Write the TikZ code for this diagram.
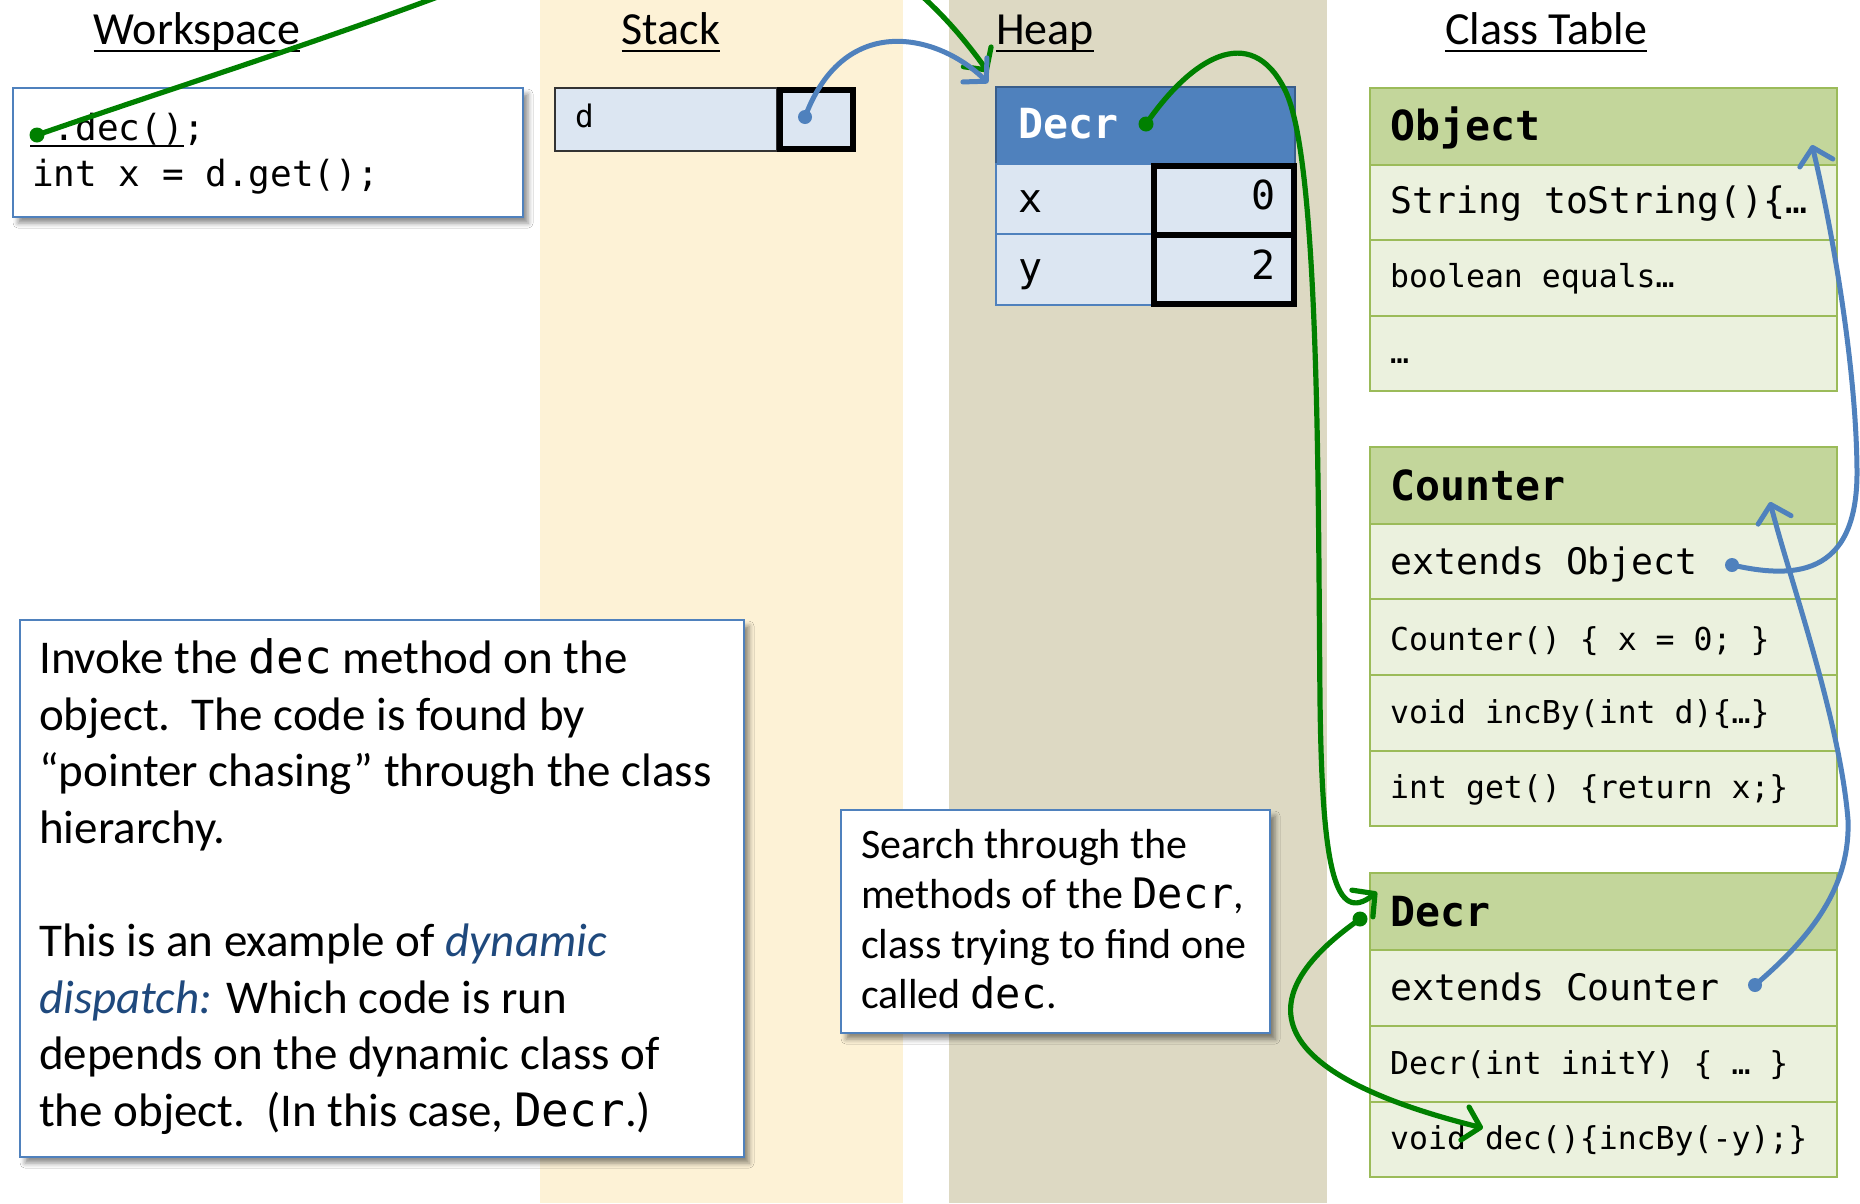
\documentclass[tikz,border=0pt]{standalone}
\usepackage{fontspec}
\setmainfont{Carlito}
\newfontfamily\mono{DejaVu Sans Mono}
\usetikzlibrary{arrows.meta,shadows.blur}

\definecolor{stackband}{HTML}{FDF2D6}
\definecolor{heapband}{HTML}{DDD9C3}
\definecolor{cellblue}{HTML}{DCE6F2}
\definecolor{hdrblue}{HTML}{4F81BD}
\definecolor{hdrblueline}{HTML}{385D8A}
\definecolor{ptrblue}{HTML}{4F81BD}
\definecolor{clshdr}{HTML}{C3D69B}
\definecolor{clsrow}{HTML}{EBF1DE}
\definecolor{clsline}{HTML}{9BBB59}
\definecolor{chase}{HTML}{008000}
\definecolor{termblue}{HTML}{1F497D}

\tikzset{
  title/.style={anchor=base,inner sep=0pt,font=\fontsize{46}{56}\selectfont},
  uline/.style={line width=2.4pt},
  notebox/.style={draw=hdrblue,line width=2.2pt,fill=white,
    blur shadow={shadow xshift=5pt,shadow yshift=-6pt,shadow blur radius=5pt,shadow opacity=45}},
  txt/.style={anchor=base west,inner sep=0pt},
  bigtxt/.style={txt,font=\fontsize{47}{57}\selectfont},
  smalltxt/.style={txt,font=\fontsize{42}{50}\selectfont},
  code/.style={anchor=base west,inner sep=0pt,font=\mono\fontsize{#1}{#1}\selectfont},
  codebf/.style={anchor=base west,inner sep=0pt,font=\mono\bfseries\fontsize{#1}{#1}\selectfont},
  clshead/.style={fill=clshdr,draw=clsline,line width=2.6pt},
  clsbody/.style={fill=clsrow,draw=clsline,line width=2.6pt},
  thickcell/.style={draw=black,line width=6pt},
  greenlink/.style={draw=chase,line width=5.2pt,line cap=round,
    -{Straight Barb[length=16pt,width=34pt,round]}},
  bluelink/.style={draw=ptrblue,line width=5pt,line cap=round,
    -{Straight Barb[length=16pt,width=34pt,round]}},
}

\begin{document}
\begin{tikzpicture}[x=1pt,y=-1pt]
\path[use as bounding box,clip] (0,0) rectangle (1860,1203);
\fill[white] (0,0) rectangle (1860,1203);

% memory areas
\fill[stackband] (540,0) rectangle (903,1203);
\fill[heapband] (949,0) rectangle (1327,1203);

% column titles
\node[title] (tws) at (197,44) {Workspace};
\node[title] (tst) at (671,44) {Stack};
\node[title] (thp) at (1045,44) {Heap};
\node[title] (tct) at (1546,44) {Class Table};
\foreach \t in {tws,tst,thp,tct}
  \draw[uline] ([yshift=-7pt]\t.base west) -- ([yshift=-7pt]\t.base east);

% workspace
\node[notebox,anchor=north west,minimum width=510pt,minimum height=129pt,inner sep=0pt] (ws) at (12,87) {};
\node[code=36] (ws1) at (32,140) {\ .dec();};
\node[code=36] (ws2) at (32,186) {int x = d.get();};
\draw[line width=2pt] (30,146) -- (184,146);

% stack frame
\draw[fill=cellblue,draw=black!80,line width=2pt] (555,88) rectangle (777,151);
\draw[thickcell,fill=cellblue] (780,90) rectangle (853,149);
\node[code=31] (dvar) at (575,127) {d};

% heap object
\draw[fill=hdrblue,draw=hdrblueline,line width=2pt] (996,87) rectangle (1295,164);
\draw[fill=cellblue,draw=hdrblue,line width=2.4pt] (996,164) rectangle (1153,234);
\draw[fill=cellblue,draw=hdrblue,line width=2.4pt] (996,234) rectangle (1153,305);
\draw[thickcell,fill=cellblue] (1154,166) rectangle (1294,235);
\draw[thickcell,fill=cellblue] (1154,235) rectangle (1294,304);
\node[codebf=41.5,text=white] (hdecr) at (1018,138) {Decr};
\node[code=40] (fx) at (1018,212) {x};
\node[code=40] (fy) at (1018,281) {y};
\node[code=40,anchor=base east] (vx) at (1276,209) {0};
\node[code=40,anchor=base east] (vy) at (1276,279) {2};

% class table: Object
\draw[clshead] (1370,88) rectangle (1837,165);
\draw[clsbody] (1370,165) rectangle (1837,240);
\draw[clsbody] (1370,240) rectangle (1837,316);
\draw[clsbody] (1370,316) rectangle (1837,391);
\node[codebf=41.5] (cobj) at (1390,140) {Object};
\node[code=36.5] (m1) at (1390,213) {String toString()\{…};
\node[code=31.5] (m2) at (1390,287) {boolean equals…};
\node[code=31.5] (m3) at (1390,363) {…};

% class table: Counter
\draw[clshead] (1370,447) rectangle (1837,524);
\draw[clsbody] (1370,524) rectangle (1837,599);
\draw[clsbody] (1370,599) rectangle (1837,675);
\draw[clsbody] (1370,675) rectangle (1837,751);
\draw[clsbody] (1370,751) rectangle (1837,826);
\node[codebf=41.5] (ccnt) at (1390,500) {Counter};
\node[code=36.5] (c1) at (1390,574) {extends Object};
\node[code=31.5] (c2) at (1390,650) {Counter() \{ x = 0; \}};
\node[code=31.5] (c3) at (1390,723) {void incBy(int d)\{…\}};
\node[code=31.5] (c4) at (1390,798) {int get() \{return x;\}};

% class table: Decr
\draw[clshead] (1370,873) rectangle (1837,950);
\draw[clsbody] (1370,950) rectangle (1837,1026);
\draw[clsbody] (1370,1026) rectangle (1837,1102);
\draw[clsbody] (1370,1102) rectangle (1837,1177);
\node[codebf=41.5] (cdec) at (1390,926) {Decr};
\node[code=36.5] (d1) at (1390,1000) {extends Counter};
\node[code=31.5] (d2) at (1390,1074) {Decr(int initY) \{ … \}};
\node[code=31.5] (d3) at (1390,1149) {void dec()\{incBy(-y);\}};

% explanation
\node[notebox,anchor=north west,minimum width=724pt,minimum height=537pt,inner sep=0pt] (expl) at (19,619) {};
\node[bigtxt] (e1) at (39,673) {Invoke the {\mono\fontsize{46}{57}\selectfont dec} method on the};
\node[bigtxt] (e2) at (39,730) {object.\ \ The code is found by};
\node[bigtxt] (e3) at (39,786) {“pointer chasing” through the class};
\node[bigtxt] (e4) at (39,843) {hierarchy.};
\node[bigtxt] (e5) at (39,956) {This is an example of {\itshape\color{termblue}dynamic}};
\node[bigtxt] (e6) at (39,1013) {{\itshape\color{termblue}dispatch:} Which code is run};
\node[bigtxt] (e7) at (39,1069) {depends on the dynamic class of};
\node[bigtxt] (e8) at (39,1126) {the object.\ \ (In this case, {\mono\fontsize{46}{57}\selectfont Decr}.)};

% search note
\node[notebox,anchor=north west,minimum width=429pt,minimum height=223pt,inner sep=0pt] (srch) at (840,809) {};
\node[smalltxt] (s1) at (861,858) {Search through the};
\node[smalltxt] (s2) at (861,908) {methods of the {\mono\fontsize{42}{50}\selectfont Decr},};
\node[smalltxt] (s3) at (861,958) {class trying to find one};
\node[smalltxt] (s4) at (861,1008) {called {\mono\fontsize{42}{50}\selectfont dec}.};

% link end points
\coordinate (wsdot) at (37,135);
\coordinate (wsmid) at (570,-55);
\coordinate (objtip) at (988,72);
\coordinate (ptrdot) at (805,117);
\coordinate (ptrtip) at (988,83);
\coordinate (hdrdot) at (1146,124);
\coordinate (hpA) at (1285,90);
\coordinate (hpB) at (1320,700);
\coordinate (clstip) at (1377,892);
\coordinate (clsdot) at (1360,919);
\coordinate (dectip) at (1483,1128);
\coordinate (extobj) at (1732,565);
\coordinate (objhead) at (1812,145);
\coordinate (extcnt) at (1755,985);
\coordinate (cntbend) at (1848,820);
\coordinate (cnthead) at (1770,502);

% pointer chasing
\draw[greenlink] (wsdot) .. controls (210,75) and (390,20) .. (wsmid)
  .. controls (730,-125) and (880,-80) .. (objtip);
\fill[chase] (wsdot) circle (7.5pt);

\draw[bluelink] (ptrdot) .. controls (845,10) and (940,35) .. (ptrtip);
\fill[ptrblue] (ptrdot) circle (7pt);

\draw[greenlink] (hdrdot) .. controls (1190,60) and (1250,20) .. (hpA)
  .. controls (1320,160) and (1318,500) .. (hpB)
  .. controls (1322,870) and (1335,925) .. (clstip);
\fill[chase] (hdrdot) circle (7.5pt);

\draw[greenlink] (clsdot) .. controls (1230,1010) and (1290,1080) .. (dectip);
\fill[chase] (clsdot) circle (7.5pt);

\draw[bluelink] (extobj) .. controls (1790,578) and (1858,580) .. (1857,470)
  .. controls (1856,360) and (1830,220) .. (objhead);
\fill[ptrblue] (extobj) circle (7pt);

\draw[bluelink] (extcnt) .. controls (1820,930) and (1850,880) .. (cntbend)
  .. controls (1840,720) and (1790,580) .. (cnthead);
\fill[ptrblue] (extcnt) circle (7pt);
\end{tikzpicture}
\end{document}
